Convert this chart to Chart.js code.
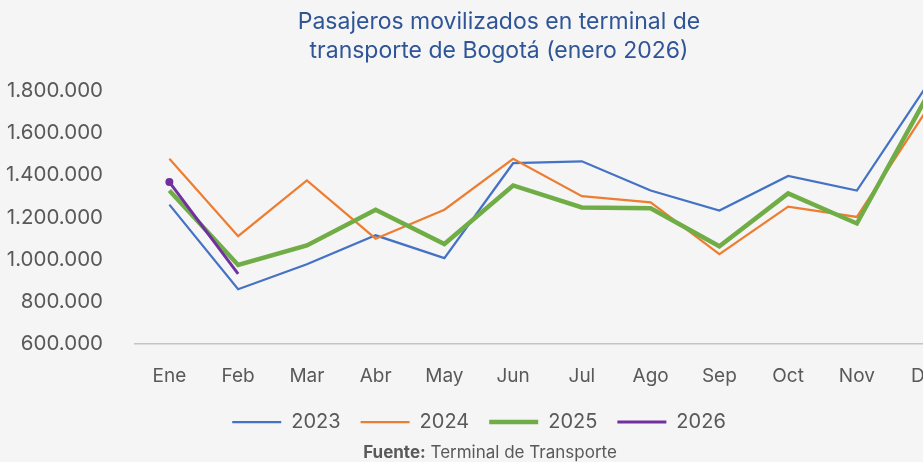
<!DOCTYPE html>
<html>
<head>
<meta charset="utf-8">
<script src="https://cdn.jsdelivr.net/npm/chart.js@4.4.1/dist/chart.umd.min.js"></script>
<style>
  html, body { margin:0; padding:0; background:#f6f5f5; overflow:hidden; width:923px; height:462px; }
  canvas { display:block; }
</style>
</head>
<body>
<canvas id="pax" width="998" height="462"></canvas>
<script>
let months=['Ene','Feb','Mar','Abr','May','Jun','Jul','Ago','Sep','Oct','Nov','Dic'];
let pax2023=[1260000,860000,978000,1115000,1007000,1456000,1465000,1327000,1232000,1396000,1327000,1815000];
let pax2024=[1477000,1111000,1375000,1099000,1236000,1477000,1300000,1271000,1026000,1251000,1202000,1700000];
let pax2025=[1327000,975000,1067000,1236000,1074000,1351000,1247000,1243000,1063000,1313000,1171000,1760000];
let pax2026=[1367000,933000];
let titleLines=['Pasajeros movilizados en terminal de','transporte de Bogotá (enero 2026)'];

function miles(v){
    return v.toString().replace(/\B(?=(\d{3})+(?!\d))/g,'.');
}

// source line under the legend, "Fuente:" in bold
const sourcePlugin={
    id:'source',
    afterLayout(chart){
        // legend sits a bit left and higher than the default box
        chart.legend.left-=20;
        chart.legend.right-=20;
        chart.legend.top-=17;
        chart.legend.bottom-=17;
    },
    afterDraw(chart){
        const ctx=chart.ctx;
        ctx.save();
        ctx.fillStyle='#595959';
        ctx.textBaseline='middle';
        ctx.font='bold 17px Inter';
        const a='Fuente:';
        const wa=ctx.measureText(a).width;
        ctx.font='17px Inter';
        const b=' Terminal de Transporte';
        const wb=ctx.measureText(b).width;
        let x=490-(wa+wb)/2;
        ctx.font='bold 17px Inter';
        ctx.fillText(a,x,453);
        ctx.font='17px Inter';
        ctx.fillText(b,x+wa,453);
        ctx.restore();
    }
};

var pax=document.getElementById('pax').getContext('2d');
var paxChart=new Chart(pax,{
    type:'line',
    data:{
        labels:months,
        datasets:[{
            label:'2023',
            data:pax2023,
            borderColor:'#4472c4',
            borderWidth:2.25,
            pointRadius:0,
            tension:0,
            clip:false,
            order:3
        },
        {
            label:'2024',
            data:pax2024,
            borderColor:'#ed7d31',
            borderWidth:2.25,
            pointRadius:0,
            tension:0,
            clip:false,
            order:2
        },
        {
            label:'2025',
            data:pax2025,
            borderColor:'#70ad47',
            borderWidth:4.5,
            pointRadius:0,
            tension:0,
            clip:false,
            order:1
        },
        {
            label:'2026',
            data:pax2026,
            borderColor:'#7030a0',
            backgroundColor:'#7030a0',
            pointBorderColor:'#7030a0',
            borderWidth:3,
            pointRadius:[2.5,0],
            pointBorderWidth:3,
            tension:0,
            clip:false,
            order:0
        }]
    },
    options:{
        responsive:false,
        animation:false,
        devicePixelRatio:1,
        layout:{padding:{bottom:3}},
        scales:{
            x:{
                offset:true,
                grid:{display:false,drawTicks:false},
                border:{display:true,color:'#c4c4c4',width:1.5},
                ticks:{color:'#595959',font:{family:'Inter',size:19},padding:21}
            },
            y:{
                min:600000,
                max:1800000,
                grid:{display:false,drawTicks:false},
                border:{display:false},
                ticks:{
                    stepSize:200000,
                    color:'#595959',
                    font:{family:'Inter',size:20.5},
                    padding:32,
                    callback:function(v){return miles(v);}
                },
                afterFit:function(s){s.width=135;}
            },
            yRight:{
                position:'right',
                grid:{display:false,drawTicks:false},
                border:{display:false},
                ticks:{display:false},
                afterFit:function(s){s.width=38;}
            }
        },
        plugins:{
            title:{
                display:true,
                text:titleLines,
                color:'#2f5597',
                font:{family:'Inter',size:23,weight:'normal',lineHeight:1.25},
                padding:{top:8,bottom:25}
            },
            legend:{
                position:'bottom',
                labels:{
                    usePointStyle:true,
                    pointStyle:'line',
                    pointStyleWidth:49,
                    boxWidth:49,
                    boxHeight:20,
                    padding:20,
                    color:'#595959',
                    font:{family:'Inter',size:20},
                    sort:function(a,b){return a.datasetIndex-b.datasetIndex;}
                }
            },
            tooltip:{enabled:false}
        }
    },
    plugins:[sourcePlugin]
});
</script>
</body>
</html>
